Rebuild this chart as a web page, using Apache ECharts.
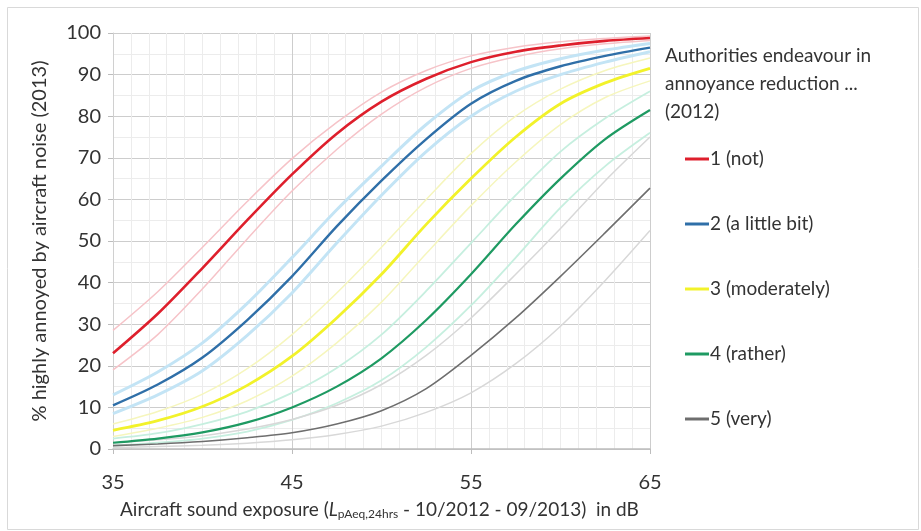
<!DOCTYPE html>
<html>
<head>
<meta charset="utf-8">
<script src="https://cdn.jsdelivr.net/npm/echarts@6/dist/echarts.min.js"></script>
<style>
html,body{margin:0;padding:0;background:#fff;}
#c{width:921px;height:531px;}
</style>
</head>
<body>
<div id="c"></div>
<script>
// x positions (dB)
var xs = [35, 37.5, 40, 42.5, 45, 47.5, 50, 52.5, 55, 57.5, 60, 62.5, 65];

// main curves (% highly annoyed)
var notVals      = [23, 32.5, 43.5, 55, 66, 75.8, 83.5, 89, 93, 95.5, 97, 98.1, 98.8];
var littleVals   = [10.5, 15.5, 22, 31, 41.5, 53.5, 64.5, 74.5, 83, 88.5, 92, 94.5, 96.5];
var moderVals    = [4.5, 6.8, 10.2, 15.3, 22.3, 31.5, 42, 54, 65, 75, 83, 88, 91.5];
var ratherVals   = [1.5, 2.5, 4, 6.4, 10, 15, 21.8, 31, 42, 54, 65, 74.5, 81.5];
var veryVals     = [0.8, 1.2, 1.8, 2.7, 3.9, 6, 9.2, 14.5, 22.5, 31.5, 41.5, 52, 62.7];

// confidence band lines
var notUp      = [28.5, 37.8, 48.5, 59.5, 69.8, 78.5, 85.8, 91, 94.5, 96.6, 97.9, 98.7, 99.3];
var notLo      = [19, 27.5, 38.5, 50.5, 62, 72, 80.5, 87, 91.5, 94.3, 96.2, 97.4, 98.2];
var littleUp   = [13, 18.5, 25.5, 35, 46, 57.5, 68, 78, 86, 90.8, 93.8, 95.9, 97.5];
var littleLo   = [8.5, 13, 18.8, 27.3, 37.5, 49.5, 61, 71.5, 80, 86, 90, 93, 95.5];
var moderUp    = [6, 9, 13.2, 19.3, 27.5, 37.5, 48.5, 60, 71, 80, 86.5, 91, 94];
var moderLo    = [3, 5, 7.6, 11.6, 17.5, 25.5, 35.3, 47, 58.5, 69, 78, 84.5, 88.5];
var ratherUp   = [2.5, 3.8, 6, 9, 13.5, 19.5, 27.5, 38, 49.5, 61, 71.5, 79.5, 86];
var ratherLo   = [0.8, 1.5, 2.5, 4.2, 7, 11, 16.5, 24.5, 34.5, 46, 58, 68, 76];
var veryUp     = [1.5, 2.2, 3.2, 4.8, 7.1, 10.5, 15.5, 22.5, 31.5, 42, 53, 64.5, 75];
var veryLo     = [0.3, 0.6, 0.9, 1.4, 2.2, 3.5, 5.5, 8.8, 13.5, 20.5, 29.5, 40.5, 52.5];

var names = ['1 (not)', '2 (a little bit)', '3 (moderately)', '4 (rather)', '5 (very)'];
var mains = [notVals, littleVals, moderVals, ratherVals, veryVals];
var ups = [notUp, littleUp, moderUp, ratherUp, veryUp];
var los = [notLo, littleLo, moderLo, ratherLo, veryLo];
var mainColors = ['#de1f2c', '#2f6fa8', '#f2f22a', '#1e9a62', '#6e6e6e'];
var bandColors = ['#f6c3c8', '#c3e4f5', '#f6f6bd', '#c6efdf', '#d8d8d8'];
var mainWidths = [2.6, 2.4, 2.8, 2.2, 1.6];
var bandWidths = [1.5, 3, 1.5, 1.8, 1.5];

function pairs(v){ return xs.map(function(x,i){ return [x, v[i]]; }); }

var series = [];
for (var k = 0; k < 5; k++) {
  [ups[k], los[k]].forEach(function(b, j){
    series.push({
      name: names[k] + ' band' + j, type: 'line', data: pairs(b),
      smooth: 0.3,
      showSymbol: false, symbol: 'none', silent: true, z: 1,
      lineStyle: { color: bandColors[k], width: bandWidths[k] }
    });
  });
}
for (var k2 = 0; k2 < 5; k2++) {
  series.push({
    name: names[k2], type: 'line', data: pairs(mains[k2]),
    smooth: 0.3,
    showSymbol: false, symbol: 'none', z: 3,
    lineStyle: { color: mainColors[k2], width: mainWidths[k2] },
    itemStyle: { color: mainColors[k2] }
  });
}

var FONT = 'Lato';
var chart = echarts.init(document.getElementById('c'), null, {renderer: 'canvas'});
chart.setOption({
  animation: false,
  backgroundColor: '#ffffff',
  textStyle: { fontFamily: FONT },
  grid: { left: 113, right: 271, top: 33, bottom: 82, containLabel: false },
  xAxis: {
    type: 'value', min: 35, max: 65, interval: 10,
    axisLine: { show: true, lineStyle: { color: '#bdbdbd', width: 1.5 } },
    axisTick: { show: true, length: 5, lineStyle: { color: '#bdbdbd' } },
    axisLabel: { color: '#333', fontSize: 20, fontFamily: FONT, margin: 24 },
    splitLine: { show: true, lineStyle: { color: '#cdcdcd', width: 1 } },
    minorTick: { show: false, splitNumber: 10 },
    minorSplitLine: { show: true, lineStyle: { color: '#ececec', width: 1 } }
  },
  yAxis: {
    type: 'value', min: 0, max: 100, interval: 10,
    axisLine: { show: true, lineStyle: { color: '#d0d0d0' } },
    axisTick: { show: true, length: 5, lineStyle: { color: '#bdbdbd' } },
    axisLabel: { color: '#333', fontSize: 20, fontFamily: FONT, margin: 12 },
    splitLine: { show: true, lineStyle: { color: '#cdcdcd', width: 1 } },
    minorTick: { show: false, splitNumber: 2 },
    minorSplitLine: { show: true, lineStyle: { color: '#ececec', width: 1 } }
  },
  legend: {
    data: names,
    orient: 'vertical', left: 680, top: 144,
    itemWidth: 24, itemHeight: 3, itemGap: 45,
    icon: 'rect',
    textStyle: { color: '#333', fontSize: 19, fontFamily: FONT, lineHeight: 20, padding: [0,0,0,-4] },
    selectedMode: false
  },
  graphic: [
    { type: 'rect', left: 5, top: 5, shape: { width: 911, height: 522 },
      style: { fill: 'none', stroke: '#d9d9d9', lineWidth: 1 }, silent: true },
    { type: 'text', x: 40, y: 241, rotation: Math.PI / 2,
      style: { text: '% highly annoyed by aircraft noise (2013)',
               fill: '#333', font: '20px ' + FONT, align: 'center', verticalAlign: 'middle' } },
    { type: 'text', left: 665, top: 42,
      style: { text: 'Authorities endeavour in\nannoyance reduction ...\n(2012)',
               fill: '#333', font: '19px ' + FONT, lineHeight: 28 } },
    { type: 'text', left: 120, top: 500,
      style: {
        text: 'Aircraft sound exposure ({i|L}{sub|pAeq,24hrs} - 10/2012 - 09/2013)  in dB',
        fill: '#333', font: '19px ' + FONT,
        rich: {
          i: { fontStyle: 'italic', fontSize: 19, fontFamily: FONT, fill: '#333' },
          sub: { fontSize: 12, fontFamily: FONT, fill: '#333', padding: [10, 0, 0, 0] }
        }
      } }
  ],
  series: series
});
</script>
</body>
</html>
